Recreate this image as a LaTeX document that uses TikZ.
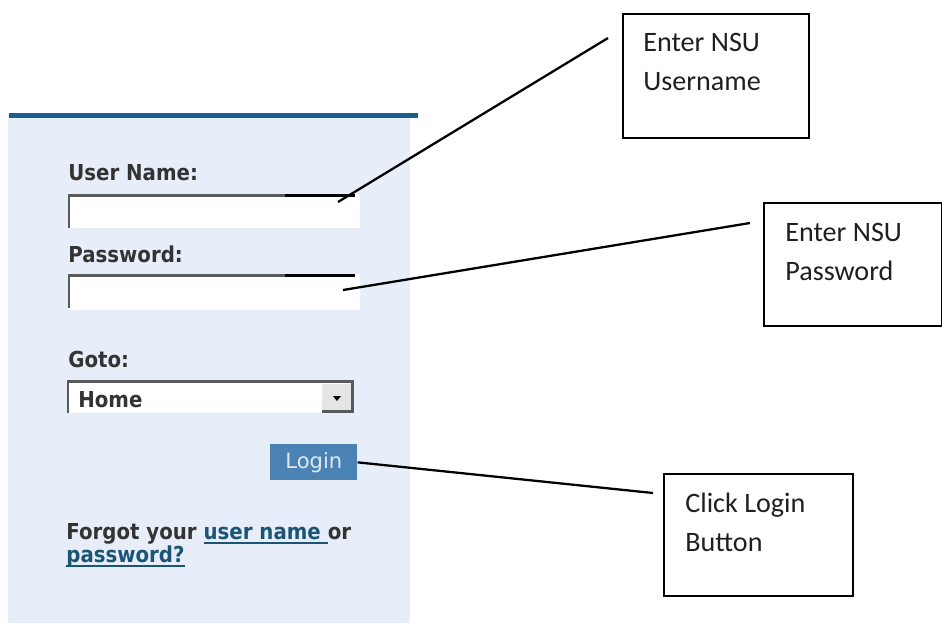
\documentclass[tikz,border=0pt]{standalone}
\usepackage{fontspec}
\newfontfamily\uifont[FakeStretch=0.9]{DejaVu Sans Bold}
\newfontfamily\uithin{DejaVu Sans}
\newfontfamily\notefont{Carlito}
\definecolor{panelbg}{RGB}{231,237,249}
\definecolor{barblue}{RGB}{26,94,142}
\definecolor{labelgray}{RGB}{51,51,51}
\definecolor{fieldline}{RGB}{90,90,90}
\definecolor{btnblue}{RGB}{74,130,180}
\definecolor{btntext}{RGB}{222,232,242}
\definecolor{linkblue}{RGB}{27,85,118}
\newcommand\linkword[1]{\leavevmode\setbox0\hbox{#1}\rlap{\rule[-0.22em]{\wd0}{0.09em}}\box0}
\begin{document}
\begin{tikzpicture}[x=0.02cm,y=-0.02cm,
  formtext/.style={inner sep=0pt, anchor=base west, text=labelgray,
    font=\uifont\fontsize{12.5}{15}\selectfont},
  note/.style={draw=black, line width=1.2pt, fill=white, anchor=north west, inner sep=0pt},
  notetext/.style={inner sep=0pt, anchor=north west, align=left, text=black!88,
    font=\notefont\fontsize{16}{22.1}\selectfont},
  pointer/.style={line width=1.3pt}]
\useasboundingbox (0,0) rectangle (942,623);
% Panel
\fill[panelbg] (8,118) rectangle (410,623);
\fill[barblue] (9,113) rectangle (418,118);
% User name
\node[formtext] (userLabel) at (68,180) {User Name:};
\fill[white] (68,194) rectangle (360,228);
\draw[fieldline, line width=1.7pt] (69,228) -- (69,195) -- (285,195);
\draw[black, line width=1.7pt] (285,195) -- (355,195);
\coordinate (userTip) at (338,202);
% Password
\node[formtext] (passLabel) at (68,262) {Password:};
\fill[white] (68,274) rectangle (360,310);
\draw[fieldline, line width=1.7pt] (69,308) -- (69,275) -- (285,275);
\draw[black, line width=1.7pt] (285,275) -- (355,275);
\coordinate (passTip) at (343,290);
% Goto
\node[formtext] (gotoLabel) at (68,367) {Goto:};
\fill[white] (67,380) rectangle (353,413);
\fill[black!10] (322,384) rectangle (351,411);
\draw[fieldline, line width=1.7pt] (68,413) -- (68,381) -- (352,381) -- (352,411) -- (322,411);
\fill[black] (333,396) -- (341,396) -- (337,401) -- cycle;
\node[formtext] (homeItem) at (78,407) {Home};
% Login
\node[fill=btnblue, minimum width=1.74cm, minimum height=0.72cm, anchor=north west,
  inner sep=0pt, text=btntext, font=\uithin\fontsize{12}{14}\selectfont] (loginBtn) at (270,444) {Login};
% Forgot
\node[formtext] (forgotText) at (66,539) {Forgot your {\color{linkblue}\linkword{user name\ }}or};
\node[formtext] (passLink) at (66,562) {\color{linkblue}\linkword{password?}};
% Notes
\node[note, minimum width=3.72cm, minimum height=2.48cm] (noteUser) at (622,13) {};
\node[notetext] (noteUserText) at ([shift={(21,20)}]noteUser.north west) {Enter NSU\\Username};
\node[note, minimum width=3.56cm, minimum height=2.46cm] (notePass) at (763,202) {};
\node[notetext] (notePassText) at ([shift={(22,21)}]notePass.north west) {Enter NSU\\Password};
\node[note, minimum width=3.78cm, minimum height=2.44cm] (noteLogin) at (663,473) {};
\node[notetext] (noteLoginText) at ([shift={(22,20)}]noteLogin.north west) {Click Login\\Button};
% Pointers
\draw[pointer] (userTip) -- ([shift={(-14,25)}]noteUser.north west);
\draw[pointer] (passTip) -- ([shift={(-13,21)}]notePass.north west);
\draw[pointer] (loginBtn.east) -- ([shift={(-10,20)}]noteLogin.north west);
\end{tikzpicture}
\end{document}
